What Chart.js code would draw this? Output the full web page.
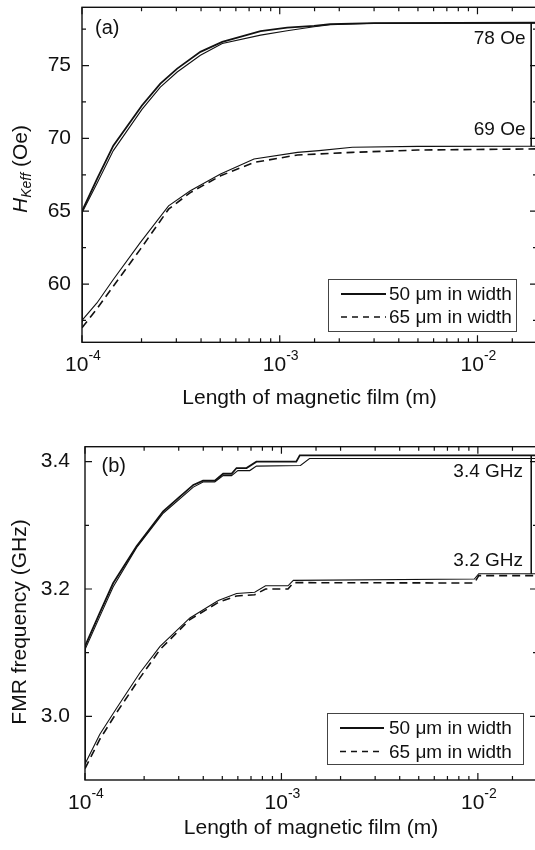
<!DOCTYPE html>
<html><head><meta charset="utf-8">
<script src="https://cdn.jsdelivr.net/npm/chart.js@4/dist/chart.umd.min.js"></script>
<style>
html,body{margin:0;padding:0;background:#fff;overflow:hidden;width:535px;height:850px;position:relative;}
#wa{position:absolute;left:0;top:0;width:540px;height:420px;}
#wb{position:absolute;left:0;top:420px;width:540px;height:430px;}
canvas{display:block;}
</style></head><body>
<div id="wa"><canvas id="ca" width="540" height="420"></canvas></div>
<div id="wb"><canvas id="cb" width="540" height="430"></canvas></div>
<script>
// ---------- DATA ----------
// Panel (a): H_Keff (Oe) vs film length (m)
const xA_upper = [1e-4, 1e-4, 1.19e-4, 1.44e-4, 2.01e-4, 2.49e-4, 3.03e-4, 3.97e-4, 5.12e-4, 8.0e-4, 1.09e-3, 1.49e-3, 1.8e-3, 3e-3, 2e-2];
const a_upper50 = [57.4, 65.0, 67.2, 69.5, 72.26, 73.76, 74.79, 75.94, 76.63, 77.37, 77.6, 77.73, 77.85, 77.92, 77.94];
const a_upper65 = [57.0, 64.9, 66.9, 69.16, 71.99, 73.52, 74.56, 75.71, 76.52, 77.09, 77.39, 77.66, 77.8, 77.9, 77.92];
const xA_lower = [1e-4, 1.19e-4, 1.44e-4, 1.97e-4, 2.74e-4, 3.53e-4, 5.02e-4, 7.41e-4, 1.23e-3, 1.58e-3, 2.33e-3, 5e-3, 2e-2];
const a_lower50 = [57.5, 58.7, 60.31, 62.84, 65.37, 66.4, 67.55, 68.59, 69.04, 69.16, 69.39, 69.45, 69.46];
const a_lower65 = [57.0, 58.3, 59.85, 62.38, 65.14, 66.28, 67.43, 68.35, 68.86, 68.93, 69.04, 69.2, 69.28];

// Panel (b): FMR frequency (GHz) vs film length (m)
const xB_upper50 = [1e-4, 1e-4, 1.19e-4, 1.39e-4, 1.83e-4, 2.50e-4, 3.04e-4, 3.56e-4, 3.99e-4, 4.58e-4, 5.05e-4, 5.57e-4, 5.91e-4, 6.64e-4, 7.46e-4, 1.19e-3, 1.24e-3, 2e-2];
const b_upper50  = [2.925, 3.11, 3.163, 3.209, 3.267, 3.322, 3.345, 3.3635, 3.370, 3.370, 3.381, 3.381, 3.390, 3.390, 3.400, 3.400, 3.410, 3.410];
const xB_upper65 = [1e-4, 1e-4, 1.19e-4, 1.39e-4, 1.83e-4, 2.50e-4, 3.56e-4, 3.99e-4, 4.58e-4, 5.05e-4, 5.57e-4, 6.0e-4, 6.9e-4, 7.46e-4, 1.25e-3, 1.39e-3, 2e-2];
const b_upper65  = [2.92, 3.105, 3.157, 3.203, 3.265, 3.319, 3.36, 3.368, 3.368, 3.378, 3.378, 3.386, 3.386, 3.393, 3.394, 3.405, 3.405];
const xB_lower = [1e-4, 1.19e-4, 1.45e-4, 1.90e-4, 2.41e-4, 3.42e-4, 4.77e-4, 5.91e-4, 7.31e-4, 8.3e-4, 1.08e-3, 1.15e-3, 9.6e-3, 1.01e-2, 2e-2];
const b_lower50 = [2.925, 2.972, 3.013, 3.068, 3.110, 3.1545, 3.182, 3.193, 3.195, 3.205, 3.205, 3.2135, 3.2157, 3.224, 3.224];
const b_lower65 = [2.918, 2.964, 3.006, 3.060, 3.105, 3.152, 3.179, 3.189, 3.191, 3.200, 3.200, 3.210, 3.2094, 3.221, 3.221];

// Connector (label box edge) x position
const boxEdgeX = 0.0187;

// Ticks and labels
const xTickVals = [1e-4, 1e-3, 1e-2];
const xTickLabels = [['10', '-4'], ['10', '-3'], ['10', '-2']];
const yTicksA = [60, 65, 70, 75];
const yMinorA = [57.5, 62.5, 67.5, 72.5, 77.5];
const yTicksB = [3.0, 3.2, 3.4];
const yMinorB = [3.1, 3.3];
const legendLabels = ['50 \u03bcm in width', '65 \u03bcm in width'];
const xTitle = 'Length of magnetic film (m)';
const yTitleB = 'FMR frequency (GHz)';
const annotA = ['(a)', '78 Oe', '69 Oe'];
const annotB = ['(b)', '3.4 GHz', '3.2 GHz'];

// ---------- RENDER ----------
const FONT = '"Liberation Sans", Arial, Helvetica, sans-serif';
const INK = '#111';
const pts = (xs, ys) => xs.map((x, i) => ({x: x, y: ys[i]}));
const isDecade = v => { const l = Math.log10(v); return Math.abs(l - Math.round(l)) < 1e-6; };

const decor = {
  id: 'decor',
  afterDraw(chart, args, o) {
    const ctx = chart.ctx, ca = chart.chartArea;
    const x = chart.scales.x, y = chart.scales.y;
    ctx.save();
    // frame
    ctx.strokeStyle = INK; ctx.lineWidth = 1.4;
    ctx.strokeRect(ca.left, ca.top, ca.right - ca.left, ca.bottom - ca.top);
    // inward ticks
    ctx.lineWidth = 1.2;
    ctx.beginPath();
    x.ticks.forEach(t => {
      const px = x.getPixelForValue(t.value);
      if (px < ca.left - 0.5 || px > ca.right + 0.5) return;
      const L = isDecade(t.value) ? 7 : 4;
      ctx.moveTo(px, ca.bottom); ctx.lineTo(px, ca.bottom - L);
      ctx.moveTo(px, ca.top); ctx.lineTo(px, ca.top + L);
    });
    const yTick = (v, L) => {
      const py = y.getPixelForValue(v);
      ctx.moveTo(ca.left, py); ctx.lineTo(ca.left + L, py);
      ctx.moveTo(ca.right, py); ctx.lineTo(ca.right - L, py);
    };
    y.ticks.forEach(t => yTick(t.value, 7));
    o.yMinor.forEach(v => yTick(v, 4));
    ctx.stroke();

    ctx.fillStyle = INK;
    ctx.textBaseline = 'middle';
    // x tick labels with superscript exponent
    xTickLabels.forEach((lab, i) => {
      const px = x.getPixelForValue(xTickVals[i]);
      ctx.font = '21px ' + FONT; const w1 = ctx.measureText(lab[0]).width;
      ctx.font = '14px ' + FONT; const w2 = ctx.measureText(lab[1]).width;
      const x0 = px - (w1 + w2) / 2 + 1;
      const yc = ca.bottom + 23;
      ctx.textAlign = 'left';
      ctx.font = '21px ' + FONT; ctx.fillText(lab[0], x0, yc);
      ctx.font = '14px ' + FONT; ctx.fillText(lab[1], x0 + w1, yc - 9);
    });

    // y title
    ctx.save();
    ctx.translate(o.yTitle.cx, o.yTitle.cy);
    ctx.rotate(-Math.PI / 2);
    ctx.textAlign = 'left';
    const parts = o.yTitle.parts;
    let tot = 0;
    parts.forEach(p => { ctx.font = p.font; p.w = ctx.measureText(p.text).width; tot += p.w; });
    let sx = -tot / 2;
    parts.forEach(p => { ctx.font = p.font; ctx.fillText(p.text, sx, p.dy || 0); sx += p.w; });
    ctx.restore();

    // annotations
    o.annots.forEach(a => {
      ctx.font = a.size + 'px ' + FONT;
      ctx.textAlign = a.align;
      ctx.fillText(a.text, a.x, a.y);
    });

    // legend
    const lg = o.legend;
    ctx.strokeStyle = '#444'; ctx.lineWidth = 1;
    ctx.strokeRect(lg.x0 + 0.5, lg.y0 + 0.5, lg.x1 - lg.x0, lg.y1 - lg.y0);
    ctx.font = '19px ' + FONT; ctx.textAlign = 'left';
    lg.rows.forEach((r, i) => {
      ctx.save();
      ctx.strokeStyle = INK; ctx.lineWidth = r.w; ctx.setLineDash(r.dash);
      ctx.beginPath(); ctx.moveTo(lg.lx0, r.y); ctx.lineTo(lg.lx1, r.y); ctx.stroke();
      ctx.restore();
      ctx.fillText(legendLabels[i], lg.tx, r.y + 1);
    });
    ctx.restore();
  }
};

function makeChart(id, cfg) {
  const line = (data, w, dash) => ({data: data, borderColor: INK, backgroundColor: INK, borderWidth: w,
    borderDash: dash || [], pointRadius: 0, showLine: true, tension: 0, fill: false});
  return new Chart(document.getElementById(id), {
    type: 'scatter',
    data: {datasets: cfg.datasets.map(d => line(d[0], d[1], d[2]))},
    options: {
      responsive: false, animation: false, devicePixelRatio: 1,
      layout: {padding: {top: cfg.padTop, right: 3, left: 0, bottom: 0}},
      plugins: {legend: {display: false}, tooltip: {enabled: false}, decor: cfg.decor},
      scales: {
        x: {
          type: 'logarithmic', min: 1e-4, max: 2e-2,
          grid: {display: false, drawTicks: false}, border: {display: false},
          ticks: {display: false, autoSkip: false},
          title: {display: true, text: xTitle, color: INK, font: {family: FONT, size: 21}, padding: {top: 0, bottom: 9}},
          afterFit: s => { s.height = cfg.xh; s.paddingLeft = s.paddingRight = s.paddingTop = s.paddingBottom = 0; }
        },
        y: {
          min: cfg.ymin, max: cfg.ymax,
          grid: {display: false, drawTicks: false}, border: {display: false},
          ticks: {color: INK, font: {family: FONT, size: 21}, padding: cfg.ypad,
            callback: v => cfg.fmt(v)},
          afterBuildTicks: s => { s.ticks = cfg.yticks.map(v => ({value: v})); },
          afterFit: s => { s.width = cfg.yw; s.paddingLeft = s.paddingRight = s.paddingTop = s.paddingBottom = 0; }
        }
      }
    },
    plugins: [decor]
  });
}

makeChart('ca', {
  datasets: [
    [pts(xA_upper, a_upper50), 1.8],
    [pts(xA_upper, a_upper65), 1.1],
    [pts(xA_lower, a_lower50), 1.1],
    [pts(xA_lower, a_lower65), 1.6, [8, 5]],
    [[{x: boxEdgeX, y: a_upper50[a_upper50.length - 1]}, {x: boxEdgeX, y: a_lower50[a_lower50.length - 1]}], 1]
  ],
  padTop: 7.3, xh: 77.7, yw: 82, ymin: 56, ymax: 79, ypad: 11, yticks: yTicksA,
  fmt: v => String(v),
  decor: {
    yMinor: yMinorA,
    yTitle: {cx: 21.5, cy: 169, parts: [
      {text: 'H', font: 'italic 21px ' + FONT},
      {text: 'Keff', font: 'italic 14px ' + FONT, dy: 6},
      {text: ' (Oe)', font: '21px ' + FONT}
    ]},
    annots: [
      {text: annotA[0], x: 95, y: 28, align: 'left', size: 20},
      {text: annotA[1], x: 525.5, y: 39, align: 'right', size: 19},
      {text: annotA[2], x: 525.5, y: 130, align: 'right', size: 19}
    ],
    legend: {x0: 328, y0: 279, x1: 516, y1: 331, lx0: 341, lx1: 386, tx: 389,
      rows: [{y: 294, w: 2, dash: []}, {y: 317, w: 1.5, dash: [6, 5]}]}
  }
});

makeChart('cb', {
  datasets: [
    [pts(xB_upper50, b_upper50), 1.8],
    [pts(xB_upper65, b_upper65), 1.1],
    [pts(xB_lower, b_lower50), 1.1],
    [pts(xB_lower, b_lower65), 1.6, [8, 5]],
    [[{x: boxEdgeX, y: b_upper50[b_upper50.length - 1]}, {x: boxEdgeX, y: b_lower50[b_lower50.length - 1]}], 1]
  ],
  padTop: 26.7, xh: 70, yw: 85, ymin: 2.9, ymax: 3.4235, ypad: 15, yticks: yTicksB,
  fmt: v => v.toFixed(1),
  decor: {
    yMinor: yMinorB,
    yTitle: {cx: 20, cy: 202, parts: [{text: yTitleB, font: '21px ' + FONT}]},
    annots: [
      {text: annotB[0], x: 101.5, y: 46, align: 'left', size: 20},
      {text: annotB[1], x: 523, y: 52, align: 'right', size: 19},
      {text: annotB[2], x: 523, y: 140.5, align: 'right', size: 19}
    ],
    legend: {x0: 327, y0: 293, x1: 523, y1: 344, lx0: 340, lx1: 384, tx: 389,
      rows: [{y: 308, w: 2, dash: []}, {y: 331.5, w: 1.5, dash: [6, 5]}]}
  }
});
</script>
</body></html>
